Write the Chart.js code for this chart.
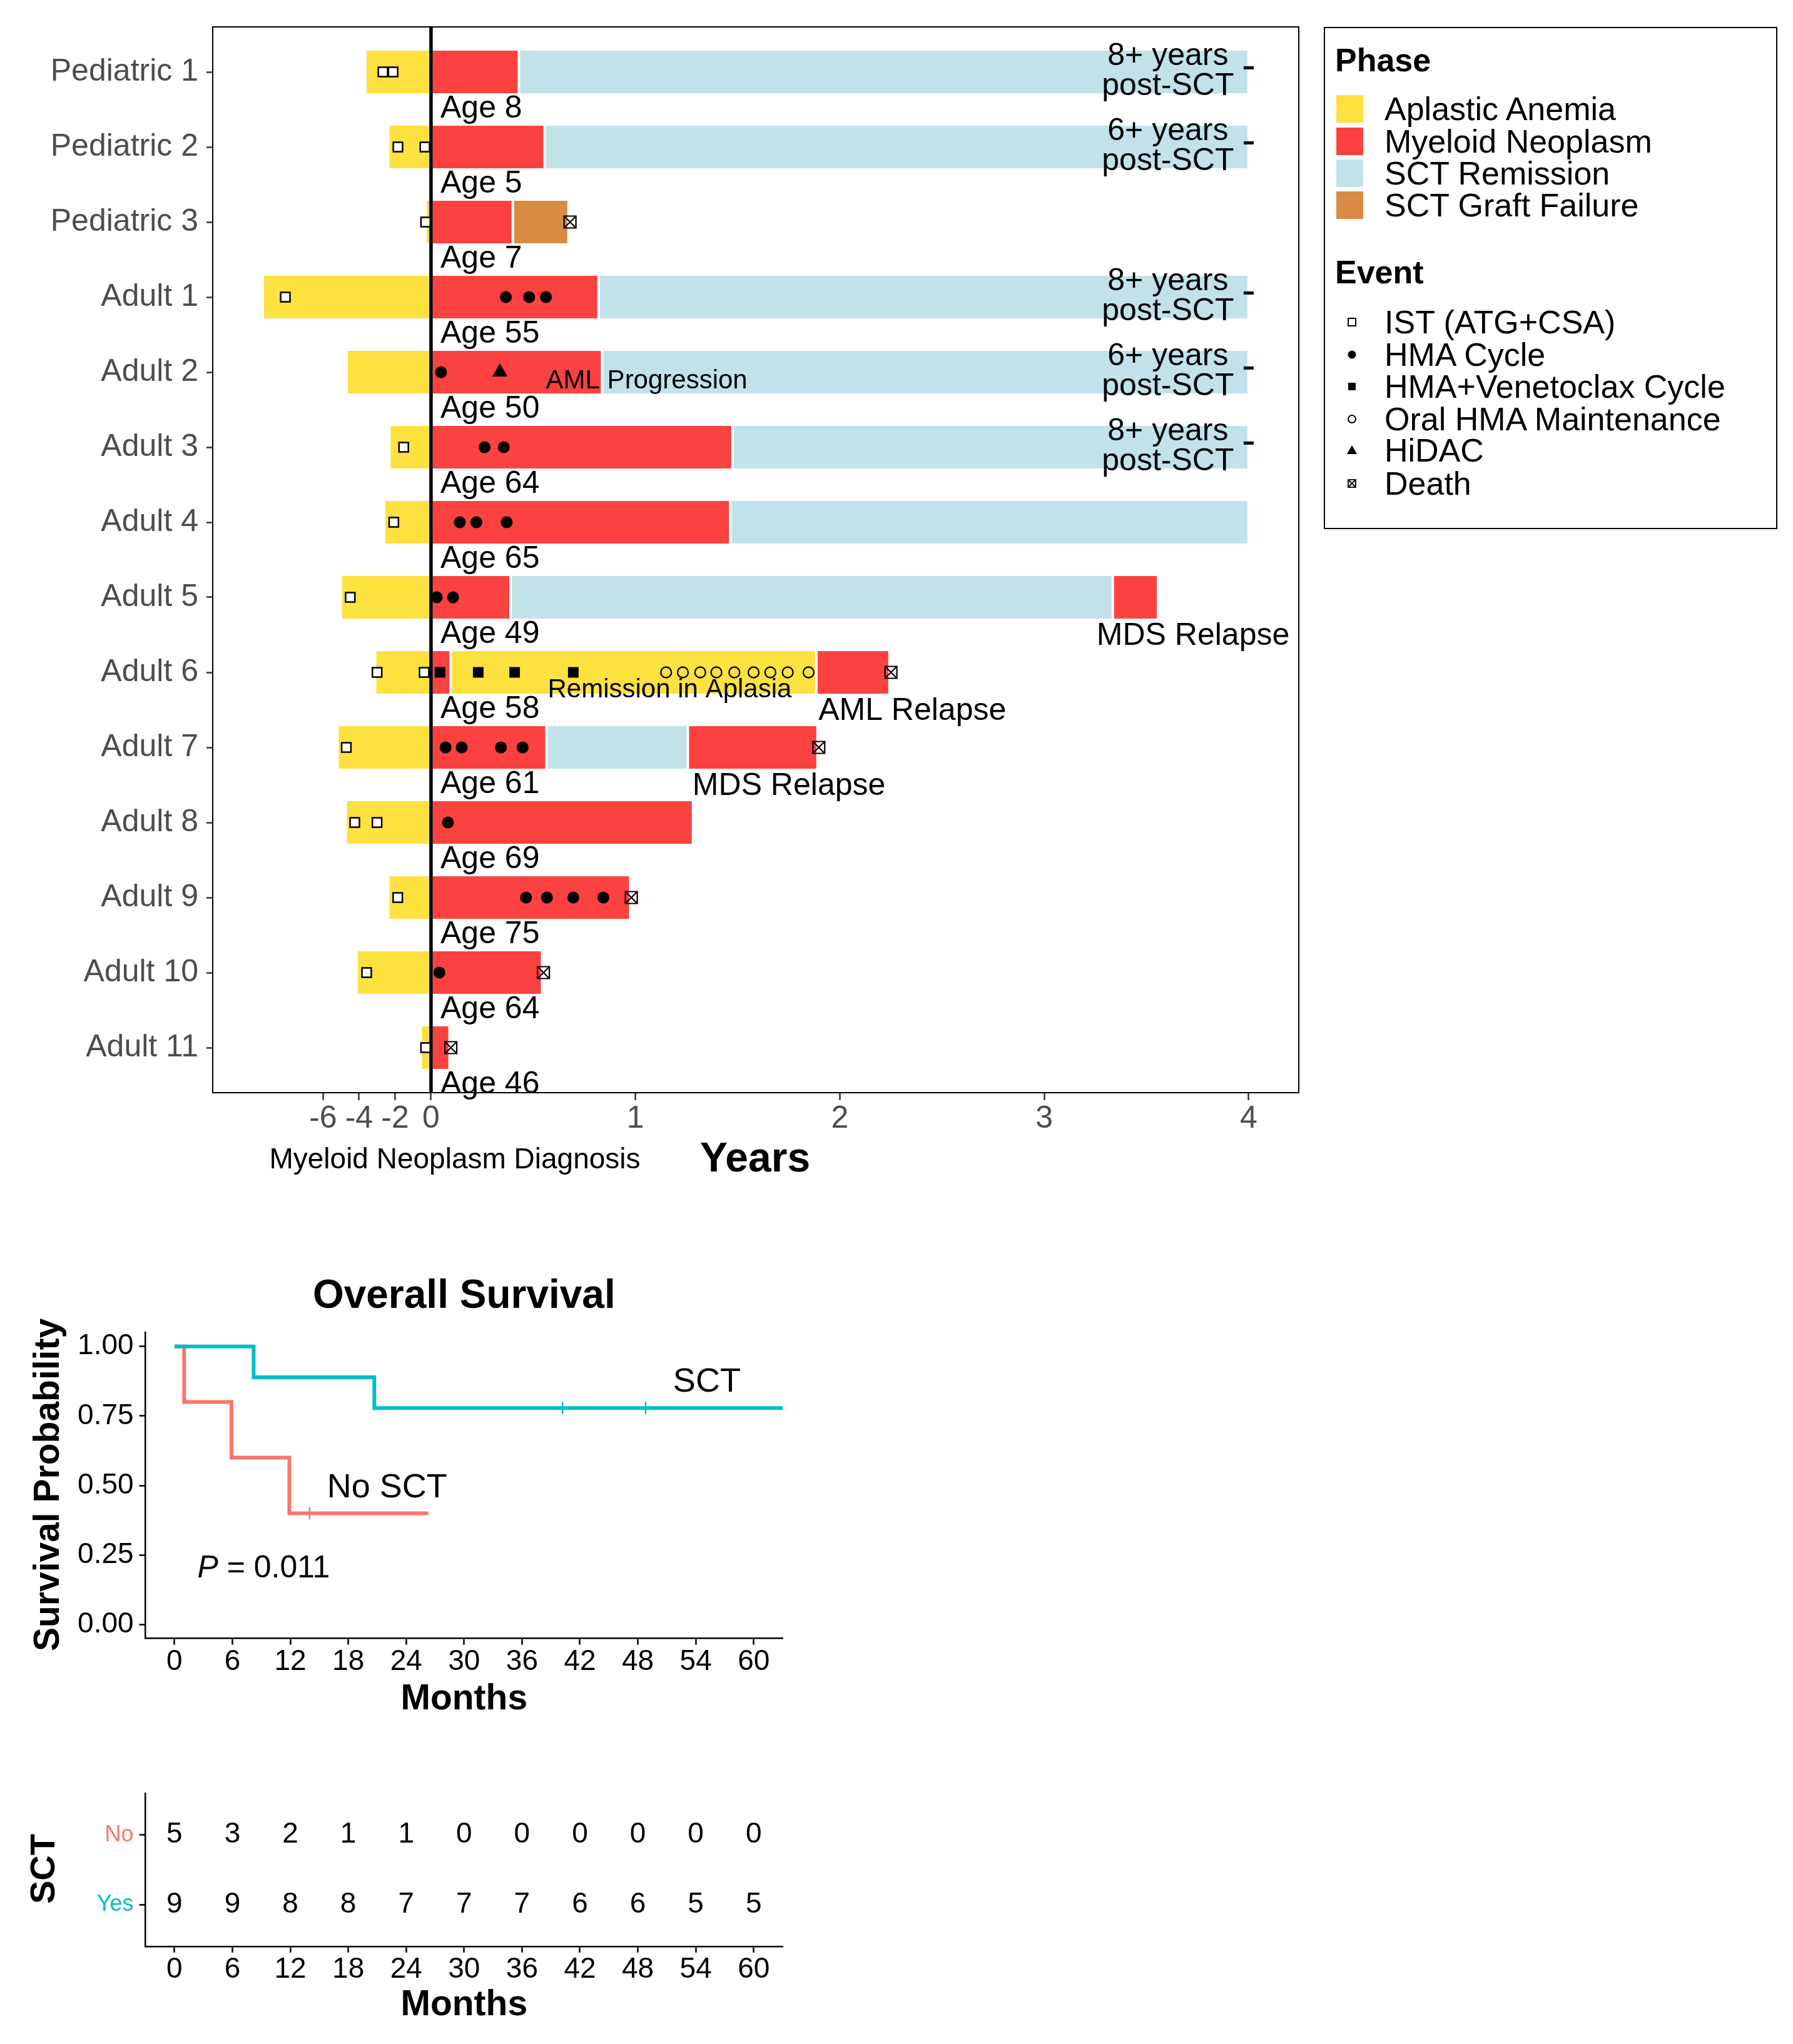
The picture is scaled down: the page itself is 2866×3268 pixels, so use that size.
<!DOCTYPE html>
<html lang="en">
<head>
<meta charset="UTF-8">
<title>Swimmer plot and overall survival</title>
<script src="https://cdn.jsdelivr.net/npm/chart.js"></script>
<style>
  html, body { margin: 0; padding: 0; background: #fff; }
  body { width: 2866px; height: 3268px; position: relative; overflow: hidden;
         font-family: 'Liberation Sans', Arial, sans-serif; color: #000; }
  canvas { position: absolute; left: 0; }
  #legend { position: absolute; left: 2116px; top: 43px; width: 725px; height: 803px;
            border: 2px solid #000; box-sizing: border-box; }
  #legend .t { position: absolute; left: 16px; font-weight: bold; font-size: 52px; line-height: 60px; height: 60px; }
  #legend .row { position: absolute; left: 0; height: 60px; line-height: 60px; font-size: 52px; white-space: nowrap; }
  #legend .sw { position: absolute; left: 18px; top: 8px; width: 43px; height: 44px; }
  #legend .sym { position: absolute; left: 31px; top: 18px; width: 24px; height: 24px; }
  #legend .lab { position: absolute; left: 95px; top: 0; }
</style>
</head>
<body>
<canvas id="swimmer" width="2100" height="1900" style="top:0"></canvas>

<div id="legend">
  <div class="t" style="top:21px">Phase</div>
  <div class="row" style="top:99px"><div class="sw" style="background:#FDE13E"></div><div class="lab">Aplastic Anemia</div></div>
  <div class="row" style="top:151px"><div class="sw" style="background:#FC4141"></div><div class="lab">Myeloid Neoplasm</div></div>
  <div class="row" style="top:202px"><div class="sw" style="background:#C2E2EA"></div><div class="lab">SCT Remission</div></div>
  <div class="row" style="top:253px"><div class="sw" style="background:#D98A43"></div><div class="lab">SCT Graft Failure</div></div>

  <div class="t" style="top:360px">Event</div>
  <div class="row" style="top:440px"><svg class="sym" viewBox="0 0 24 24"><rect x="6" y="6" width="12" height="12" fill="#fff" stroke="#000" stroke-width="2"/></svg><div class="lab">IST (ATG+CSA)</div></div>
  <div class="row" style="top:492px"><svg class="sym" viewBox="0 0 24 24"><circle cx="12" cy="12" r="6.5" fill="#000"/></svg><div class="lab">HMA Cycle</div></div>
  <div class="row" style="top:543px"><svg class="sym" viewBox="0 0 24 24"><rect x="6" y="6" width="12" height="12" fill="#000"/></svg><div class="lab">HMA+Venetoclax Cycle</div></div>
  <div class="row" style="top:595px"><svg class="sym" viewBox="0 0 24 24"><circle cx="12" cy="12" r="6" fill="none" stroke="#000" stroke-width="2"/></svg><div class="lab">Oral HMA Maintenance</div></div>
  <div class="row" style="top:645px"><svg class="sym" viewBox="0 0 24 24"><polygon points="12,4 20,18 4,18" fill="#000"/></svg><div class="lab">HiDAC</div></div>
  <div class="row" style="top:698px"><svg class="sym" viewBox="0 0 24 24"><rect x="6" y="6" width="12" height="12" fill="none" stroke="#000" stroke-width="1.8"/><path d="M6 6 L18 18 M18 6 L6 18" stroke="#000" stroke-width="1.8"/></svg><div class="lab">Death</div></div>
</div>

<canvas id="survival" width="1320" height="780" style="top:1990px"></canvas>
<canvas id="risk" width="1320" height="478" style="top:2790px"></canvas>

<script>
Chart.defaults.font.family = "'Liberation Sans', Arial, sans-serif";
Chart.defaults.color = '#000';
const FONT = "'Liberation Sans', Arial, sans-serif";

// ---------- swimmer plot data ----------
const patients = ['Pediatric 1', 'Pediatric 2', 'Pediatric 3', 'Adult 1', 'Adult 2', 'Adult 3', 'Adult 4',
                  'Adult 5', 'Adult 6', 'Adult 7', 'Adult 8', 'Adult 9', 'Adult 10', 'Adult 11'];
const ages = [8, 5, 7, 55, 50, 64, 65, 49, 58, 61, 69, 75, 64, 46];

// aplastic anemia start, in units of the compressed pre-diagnosis axis (-6, -4, -2)
const aaStart = [-3.65, -2.37, -0.31, -9.36, -4.70, -2.32, -2.61, -5.02, -3.11, -5.20, -4.75, -2.38, -4.14, -0.58];
// end of the first myeloid neoplasm phase, years after diagnosis
const mnEnd = [0.43, 0.556, 0.40, 0.82, 0.837, 1.475, 1.464, 0.389, 0.096, 0.565, 1.282, 0.975, 0.544, 0.091];

const sctRemission = [['Pediatric 1', 0.43, 4], ['Pediatric 2', 0.556, 4], ['Adult 1', 0.82, 4], ['Adult 2', 0.837, 4],
                      ['Adult 3', 1.475, 4], ['Adult 4', 1.464, 4], ['Adult 5', 0.389, 3.335], ['Adult 7', 0.565, 1.256]];
const graftFailure = [['Pediatric 3', 0.40, 0.673]];
const aplasiaRemission = [['Adult 6', 0.096, 1.885]];
const relapse = [['Adult 5', 3.335, 3.557], ['Adult 6', 1.885, 2.243], ['Adult 7', 1.256, 1.891]];

// events (IST in pre-diagnosis units, the rest in years)
const istEvents = [['Pediatric 1', -2.67], ['Pediatric 1', -2.11], ['Pediatric 2', -1.84], ['Pediatric 2', -0.34],
                   ['Pediatric 3', -0.30], ['Adult 1', -8.10], ['Adult 3', -1.52], ['Adult 4', -2.07], ['Adult 5', -4.49],
                   ['Adult 6', -3.00], ['Adult 6', -0.38], ['Adult 7', -4.71], ['Adult 8', -4.24], ['Adult 8', -3.00],
                   ['Adult 9', -1.85], ['Adult 10', -3.58], ['Adult 11', -0.30]];
const hmaEvents = [['Adult 1', 0.366], ['Adult 1', 0.480], ['Adult 1', 0.562], ['Adult 2', 0.049],
                   ['Adult 3', 0.262], ['Adult 3', 0.356], ['Adult 4', 0.141], ['Adult 4', 0.222], ['Adult 4', 0.370],
                   ['Adult 5', 0.028], ['Adult 5', 0.108], ['Adult 7', 0.071], ['Adult 7', 0.150], ['Adult 7', 0.342],
                   ['Adult 7', 0.448], ['Adult 8', 0.083], ['Adult 9', 0.465], ['Adult 9', 0.567], ['Adult 9', 0.696],
                   ['Adult 9', 0.843], ['Adult 10', 0.041]];
const venEvents = [['Adult 6', 0.044], ['Adult 6', 0.231], ['Adult 6', 0.409], ['Adult 6', 0.696]];
const oralEvents = [['Adult 6', 1.150], ['Adult 6', 1.232], ['Adult 6', 1.317], ['Adult 6', 1.396], ['Adult 6', 1.484],
                    ['Adult 6', 1.578], ['Adult 6', 1.660], ['Adult 6', 1.745], ['Adult 6', 1.847]];
const hidacEvents = [['Adult 2', 0.337]];
const deathEvents = [['Pediatric 3', 0.68], ['Adult 6', 2.25], ['Adult 7', 1.897], ['Adult 9', 0.98],
                     ['Adult 10', 0.55], ['Adult 11', 0.097]];

const followUp = [['Pediatric 1', '8+'], ['Pediatric 2', '6+'], ['Adult 1', '8+'], ['Adult 2', '6+'], ['Adult 3', '8+']];
const phaseNotes = [['Adult 2', 'AML Progression', 0.562, 0.12], ['Adult 6', 'Remission in Aplasia', 0.571, 0.24]];
const relapseNotes = [['Adult 5', 'MDS Relapse', 3.256], ['Adult 6', 'AML Relapse', 1.895], ['Adult 7', 'MDS Relapse', 1.279]];

const xTickValues = [-6, -4, -2, 0, 1, 2, 3, 4];
const xTickLabels = ['-6', '-4', '-2', '0', '1', '2', '3', '4'];

const NEG_UNIT = 0.088;           // one pre-diagnosis unit drawn as this many years of axis
const toAxis = v => v < 0 ? v * NEG_UNIT : v;
const rowOf = name => patients.indexOf(name);

const C_AA = '#FDE13E', C_MN = '#FC4141', C_SCT = '#C2E2EA', C_GF = '#D98A43';

function barSet(label, color, segs) {
  return {
    type: 'bar', label, indexAxis: 'y', grouped: false, order: 3,
    data: segs.map(([p, s, e]) => ({ x: [toAxis(s), toAxis(e)], y: rowOf(p) })),
    backgroundColor: color, borderColor: '#fff',
    borderWidth: { left: 2.4, right: 2.4, top: 0, bottom: 0 }, borderSkipped: false,
    barThickness: 68
  };
}
function pointSet(label, events, style) {
  return Object.assign({
    type: 'scatter', label, order: 1,
    data: events.map(([p, t]) => ({ x: toAxis(t), y: rowOf(p) }))
  }, style);
}

const aaSegs = patients.map((p, i) => [p, aaStart[i], 0]);
const mnSegs = patients.map((p, i) => [p, 0, mnEnd[i]]);

const swimmerText = {
  id: 'swimmerText',
  afterDraw(chart) {
    const { ctx, chartArea: a, scales: { x, y } } = chart;
    ctx.save();
    ctx.strokeStyle = '#000';
    ctx.lineWidth = 2;
    ctx.strokeRect(a.left, a.top, a.right - a.left, a.bottom - a.top);

    ctx.fillStyle = '#000';
    ctx.textBaseline = 'middle';
    ctx.textAlign = 'left';
    ctx.font = '50px ' + FONT;
    ages.forEach((age, i) => ctx.fillText('Age ' + age, x.getPixelForValue(0.046), y.getPixelForValue(i + 0.49)));
    relapseNotes.forEach(([p, t, at]) => ctx.fillText(t, x.getPixelForValue(at), y.getPixelForValue(rowOf(p) + 0.52)));

    ctx.textAlign = 'center';
    followUp.forEach(([p, yrs]) => {
      const r = rowOf(p);
      ctx.fillText(yrs + ' years', x.getPixelForValue(3.605), y.getPixelForValue(r - 0.21));
      ctx.fillText('post-SCT', x.getPixelForValue(3.605), y.getPixelForValue(r + 0.19));
    });

    ctx.textAlign = 'left';
    ctx.font = '42px ' + FONT;
    phaseNotes.forEach(([p, t, at, dy]) => ctx.fillText(t, x.getPixelForValue(at), y.getPixelForValue(rowOf(p) + dy)));

    // axis titles
    const base = a.bottom + 108;
    ctx.textAlign = 'center';
    ctx.font = '46px ' + FONT;
    ctx.fillText('Myeloid Neoplasm Diagnosis', 727, base);
    ctx.font = 'bold 66px ' + FONT;
    ctx.fillText('Years', 1207, base);
    ctx.restore();
  }
};

new Chart(document.getElementById('swimmer'), {
  type: 'scatter',
  data: {
    datasets: [
      barSet('Aplastic Anemia', C_AA, aaSegs),
      barSet('Myeloid Neoplasm', C_MN, mnSegs),
      barSet('SCT Remission', C_SCT, sctRemission),
      barSet('SCT Graft Failure', C_GF, graftFailure),
      barSet('Remission in Aplasia', C_AA, aplasiaRemission),
      barSet('Relapse', C_MN, relapse),
      {
        type: 'scatter', label: 'Diagnosis', order: 2, showLine: true,
        data: [{ x: 0, y: -0.6 }, { x: 0, y: 13.6 }],
        borderColor: '#000', borderWidth: 5.5, pointRadius: 0
      },
      pointSet('IST (ATG+CSA)', istEvents, { pointStyle: 'rect', pointRadius: 10.5, pointBackgroundColor: '#fff', pointBorderColor: '#000', pointBorderWidth: 2.5 }),
      pointSet('HMA Cycle', hmaEvents, { pointStyle: 'circle', pointRadius: 9.5, pointBackgroundColor: '#000', pointBorderColor: '#000', pointBorderWidth: 0 }),
      pointSet('HMA+Venetoclax Cycle', venEvents, { pointStyle: 'rect', pointRadius: 12, pointBackgroundColor: '#000', pointBorderColor: '#000', pointBorderWidth: 0 }),
      pointSet('Oral HMA Maintenance', oralEvents, { pointStyle: 'circle', pointRadius: 8.5, pointBackgroundColor: 'rgba(0,0,0,0)', pointBorderColor: '#000', pointBorderWidth: 2.3 }),
      pointSet('HiDAC', hidacEvents, { pointStyle: 'triangle', pointRadius: 14, pointBackgroundColor: '#000', pointBorderColor: '#000', pointBorderWidth: 0 }),
      pointSet('Death', deathEvents, { pointStyle: 'rect', pointRadius: 13.4, pointBackgroundColor: 'rgba(0,0,0,0)', pointBorderColor: '#000', pointBorderWidth: 2.2 }),
      pointSet('Death cross', deathEvents, { pointStyle: 'crossRot', pointRadius: 13.4, pointBorderColor: '#000', pointBorderWidth: 2.2 }),
      {
        type: 'scatter', label: 'Follow-up', order: 1,
        data: followUp.map(([p]) => ({ x: 4, y: rowOf(p) - 0.055 })),
        pointStyle: 'line', pointRadius: 8, pointBorderColor: '#000', pointBorderWidth: 5
      }
    ]
  },
  options: {
    responsive: false,
    animation: false,
    events: [],
    layout: { padding: { top: 42, right: 24, left: 0, bottom: 0 } },
    plugins: { legend: { display: false }, tooltip: { enabled: false } },
    scales: {
      x: {
        type: 'linear', min: -1.068, max: 4.245, offset: false,
        afterBuildTicks: s => { s.ticks = xTickValues.map(v => ({ value: toAxis(v) })); },
        afterFit: s => { s.height = 153; },
        ticks: { callback: (v, i) => xTickLabels[i], font: { size: 50 }, color: '#4d4d4d',
                 padding: 0, autoSkip: false, maxRotation: 0, minRotation: 0 },
        grid: { offset: false, drawOnChartArea: false, tickLength: 12, tickColor: '#333', tickWidth: 2.5 },
        border: { display: false }
      },
      y: {
        type: 'linear', min: -0.6, max: 13.6, reverse: true, offset: false,
        afterBuildTicks: s => { s.ticks = patients.map((p, i) => ({ value: i })); },
        afterFit: s => { s.width = 340; },
        ticks: { callback: (v, i) => patients[i], font: { size: 50 }, color: '#4d4d4d', padding: 13, autoSkip: false },
        grid: { offset: false, drawOnChartArea: false, tickLength: 10, tickColor: '#333', tickWidth: 2.5 },
        border: { display: false }
      }
    }
  },
  plugins: [swimmerText]
});

// ---------- survival data ----------
const monthTicks = [0, 6, 12, 18, 24, 30, 36, 42, 48, 54, 60];
const survTicks = [0, 0.25, 0.5, 0.75, 1];
const noSctTime = [0, 1, 5.9, 11.9, 26.3];
const noSctSurv = [1, 0.8, 0.6, 0.4, 0.4];
const sctTime = [0, 8.2, 20.7, 63];
const sctSurv = [1, 0.889, 0.778, 0.778];
const noSctCensor = [14.0];
const sctCensor = [40.2, 48.8];
const riskGroups = ['Yes', 'No'];
const atRiskNo = [5, 3, 2, 1, 1, 0, 0, 0, 0, 0, 0];
const atRiskYes = [9, 9, 8, 8, 7, 7, 7, 6, 6, 5, 5];

const C_NO = '#F8766D', C_YES = '#00BFC4';

const survAt = (times, surv, t) => {
  let s = surv[0];
  times.forEach((tt, i) => { if (tt <= t) s = surv[i]; });
  return s;
};
const curve = (times, surv) => times.map((t, i) => ({ x: t, y: surv[i] }));

const axisLook = {
  grid: { offset: false, drawOnChartArea: false, tickLength: 10, tickColor: '#000', tickWidth: 2.5 },
  border: { display: true, color: '#000', width: 2.5 }
};

const survivalText = {
  id: 'survivalText',
  afterDraw(chart) {
    const { ctx, chartArea: a, scales: { x, y } } = chart;
    ctx.save();
    ctx.fillStyle = '#000';
    ctx.textBaseline = 'middle';
    ctx.textAlign = 'center';
    ctx.font = 'bold 64px ' + FONT;
    ctx.fillText('Overall Survival', (a.left + a.right) / 2, 83);
    ctx.font = 'bold 57px ' + FONT;
    ctx.fillText('Months', (a.left + a.right) / 2, 727);
    ctx.save();
    ctx.translate(78, 384);
    ctx.rotate(-Math.PI / 2);
    ctx.fillText('Survival Probability', 0, 0);
    ctx.restore();

    ctx.textAlign = 'left';
    ctx.font = '54px ' + FONT;
    ctx.fillText('SCT', x.getPixelForValue(51.65), y.getPixelForValue(0.87));
    ctx.fillText('No SCT', x.getPixelForValue(15.8), y.getPixelForValue(0.49));
    const px = x.getPixelForValue(2.37), py = y.getPixelForValue(0.2);
    ctx.font = 'italic 50px ' + FONT;
    ctx.fillText('P', px, py);
    const w = ctx.measureText('P').width;
    ctx.font = '50px ' + FONT;
    ctx.fillText(' = 0.011', px + w, py);
    ctx.restore();
  }
};

new Chart(document.getElementById('survival'), {
  type: 'scatter',
  data: {
    datasets: [
      { label: 'No SCT', showLine: true, stepped: true, data: curve(noSctTime, noSctSurv),
        borderColor: C_NO, borderWidth: 6, pointRadius: 0, order: 3 },
      { label: 'SCT', showLine: true, stepped: true, data: curve(sctTime, sctSurv),
        borderColor: C_YES, borderWidth: 6, pointRadius: 0, order: 2 },
      { label: 'No SCT censored', data: noSctCensor.map(t => ({ x: t, y: survAt(noSctTime, noSctSurv, t) })),
        pointStyle: 'line', pointRotation: 90, pointRadius: 10, pointBorderColor: C_NO, pointBorderWidth: 2.5, order: 1 },
      { label: 'SCT censored', data: sctCensor.map(t => ({ x: t, y: survAt(sctTime, sctSurv, t) })),
        pointStyle: 'line', pointRotation: 90, pointRadius: 10, pointBorderColor: C_YES, pointBorderWidth: 2.5, order: 1 }
    ]
  },
  options: {
    responsive: false,
    animation: false,
    events: [],
    layout: { padding: { top: 140.4, right: 69, left: 0, bottom: 0 } },
    plugins: { legend: { display: false }, tooltip: { enabled: false } },
    scales: {
      x: Object.assign({
        type: 'linear', min: -3, max: 63, offset: false,
        afterBuildTicks: s => { s.ticks = monthTicks.map(v => ({ value: v })); },
        afterFit: s => { s.height = 150.4; },
        ticks: { font: { size: 46 }, color: '#000', padding: 0, autoSkip: false, maxRotation: 0, minRotation: 0 }
      }, axisLook),
      y: Object.assign({
        type: 'linear', min: -0.05, max: 1.05, offset: false,
        afterBuildTicks: s => { s.ticks = survTicks.map(v => ({ value: v })); },
        afterFit: s => { s.width = 232.6; },
        ticks: { callback: v => v.toFixed(2), font: { size: 46 }, color: '#000', padding: 9, autoSkip: false }
      }, axisLook)
    }
  },
  plugins: [survivalText]
});

// ---------- number at risk ----------
const riskText = {
  id: 'riskText',
  afterDatasetsDraw(chart) {
    const { ctx, chartArea: a } = chart;
    ctx.save();
    ctx.fillStyle = '#000';
    ctx.textBaseline = 'middle';
    ctx.textAlign = 'center';
    ctx.font = '46px ' + FONT;
    chart.data.datasets.forEach((ds, di) => {
      chart.getDatasetMeta(di).data.forEach((pt, j) => ctx.fillText(String(ds.data[j].n), pt.x, pt.y));
    });
    ctx.font = 'bold 57px ' + FONT;
    ctx.fillText('Months', (a.left + a.right) / 2, 416);
    ctx.font = 'bold 56px ' + FONT;
    ctx.translate(72, 198);
    ctx.rotate(-Math.PI / 2);
    ctx.fillText('SCT', 0, 0);
    ctx.restore();
  }
};

new Chart(document.getElementById('risk'), {
  type: 'scatter',
  data: {
    datasets: [
      { label: 'No', data: monthTicks.map((t, i) => ({ x: t, y: 2, n: atRiskNo[i] })), pointRadius: 0 },
      { label: 'Yes', data: monthTicks.map((t, i) => ({ x: t, y: 1, n: atRiskYes[i] })), pointRadius: 0 }
    ]
  },
  options: {
    responsive: false,
    animation: false,
    events: [],
    layout: { padding: { top: 77, right: 69, left: 0, bottom: 0 } },
    plugins: { legend: { display: false }, tooltip: { enabled: false } },
    scales: {
      x: Object.assign({
        type: 'linear', min: -3, max: 63, offset: false,
        afterBuildTicks: s => { s.ticks = monthTicks.map(v => ({ value: v })); },
        afterFit: s => { s.height = 156.2; },
        ticks: { font: { size: 46 }, color: '#000', padding: 0, autoSkip: false, maxRotation: 0, minRotation: 0 }
      }, axisLook),
      y: Object.assign({
        type: 'linear', min: 0.4, max: 2.6, offset: false,
        afterBuildTicks: s => { s.ticks = [{ value: 1 }, { value: 2 }]; },
        afterFit: s => { s.width = 232.6; },
        ticks: { callback: v => riskGroups[v - 1], font: { size: 36 }, padding: 9, autoSkip: false,
                 color: c => (c.tick && c.tick.value === 2) ? C_NO : C_YES }
      }, axisLook)
    }
  },
  plugins: [riskText]
});
</script>
</body>
</html>
